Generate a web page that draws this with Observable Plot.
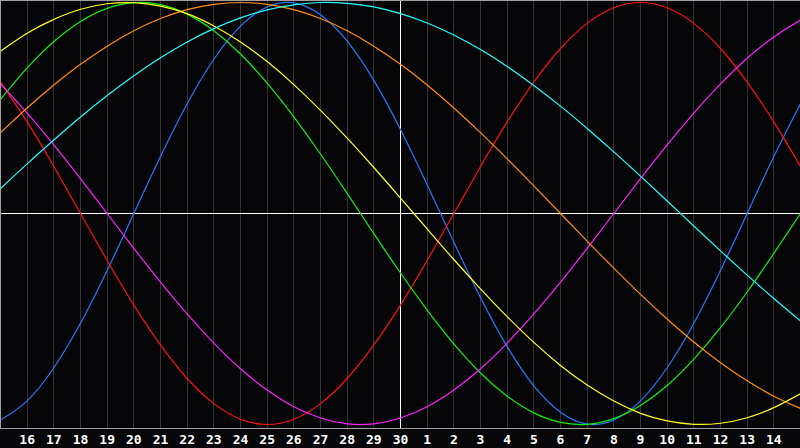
<!DOCTYPE html>
<html>
<head>
<meta charset="utf-8">
<script src="https://cdn.jsdelivr.net/npm/d3@7"></script>
<script src="https://cdn.jsdelivr.net/npm/@observablehq/plot@0.6"></script>
<style>
  html, body { margin: 0; padding: 0; background: #060609; }
  #chart svg { display: block; }
</style>
</head>
<body>
<div id="chart"></div>
<script>
// Day labels at grid positions 1..29 (position 15 = today, "30")
const dayLabels = [16,17,18,19,20,21,22,23,24,25,26,27,28,29,30,1,2,3,4,5,6,7,8,9,10,11,12,13,14];
const todayIndex = 15;

// Series values at positions 0..30 (one per day column edge)
const emotional = [0.623,0.434,0.223,0,-0.223,-0.434,-0.623,-0.782,-0.901,-0.975,-1,-0.975,-0.901,-0.782,-0.623,-0.434,-0.223,0,0.223,0.434,0.623,0.782,0.901,0.975,1,0.975,0.901,0.782,0.623,0.434,0.223];
const physical = [-0.979,-0.888,-0.731,-0.520,-0.270,0,0.270,0.520,0.731,0.888,0.979,0.998,0.942,0.817,0.631,0.398,0.136,-0.136,-0.398,-0.631,-0.817,-0.942,-0.998,-0.979,-0.888,-0.731,-0.520,-0.270,0,0.270,0.520];
const intellectual = [0.541,0.690,0.815,0.910,0.972,0.999,0.990,0.945,0.866,0.756,0.618,0.458,0.282,0.095,-0.095,-0.282,-0.458,-0.618,-0.756,-0.866,-0.945,-0.990,-0.999,-0.972,-0.910,-0.815,-0.690,-0.541,-0.372,-0.189,0];
const aesthetic = [0.769,0.854,0.920,0.968,0.994,0.999,0.983,0.947,0.889,0.813,0.720,0.611,0.489,0.357,0.218,0.073,-0.073,-0.218,-0.357,-0.489,-0.611,-0.720,-0.813,-0.889,-0.947,-0.983,-0.999,-0.994,-0.968,-0.920,-0.854];
const awareness = [0.383,0.500,0.609,0.707,0.793,0.866,0.924,0.966,0.991,1,0.991,0.966,0.924,0.866,0.793,0.707,0.609,0.500,0.383,0.259,0.131,0,-0.131,-0.259,-0.383,-0.500,-0.609,-0.707,-0.793,-0.866,-0.924];
const spiritual = [0.118,0.235,0.348,0.457,0.559,0.653,0.738,0.813,0.876,0.927,0.965,0.989,1.000,0.996,0.979,0.947,0.903,0.846,0.777,0.697,0.607,0.509,0.403,0.292,0.177,0.059,-0.059,-0.177,-0.292,-0.403,-0.509];
const intuitive = [0.614,0.476,0.325,0.165,0,-0.165,-0.325,-0.476,-0.614,-0.736,-0.837,-0.916,-0.969,-0.997,-0.997,-0.969,-0.916,-0.837,-0.736,-0.614,-0.476,-0.325,-0.165,0,0.165,0.325,0.476,0.614,0.736,0.837,0.916];

const seriesNames = ["physical","emotional","intellectual","intuitive","awareness","aesthetic","spiritual"];
const seriesColors = ["#2878ff","#ff1010","#10f010","#ff20ff","#ff8c10","#ffff20","#20ffff"];
const seriesData = {physical, emotional, intellectual, intuitive, awareness, aesthetic, spiritual};

const rows = [];
for (const name of seriesNames) {
  seriesData[name].forEach((v, i) => rows.push({series: name, k: i, v}));
}

const chart = Plot.plot({
  width: 800,
  height: 448,
  marginTop: 0,
  marginRight: 0,
  marginBottom: 20,
  marginLeft: 0,
  style: {background: "#060609", color: "#ffffff"},
  x: {domain: [0, 30], range: [0, 800], axis: null},
  y: {domain: [-1, 1], range: [424, 2], axis: null},
  color: {type: "ordinal", domain: seriesNames, range: seriesColors},
  marks: [
    Plot.ruleX(d3.range(1, 30), {stroke: "#343434", strokeWidth: 1, shapeRendering: "crispEdges"}),
    Plot.ruleX([todayIndex], {stroke: "#ffffff", strokeWidth: 1, shapeRendering: "crispEdges"}),
    Plot.ruleY([0], {stroke: "#ffffff", strokeWidth: 1, shapeRendering: "crispEdges"}),
    Plot.line(rows, {x: "k", y: "v", z: "series", stroke: "series", strokeWidth: 1.2, curve: "natural"}),
    Plot.frame({stroke: "#a0a0a0", strokeWidth: 1, shapeRendering: "crispEdges"}),
    Plot.axisX(d3.range(1, 30), {
      tickSize: 0,
      tickPadding: 6,
      tickFormat: k => String(dayLabels[k - 1]),
      fill: "#ffffff",
      fontSize: 13,
      fontWeight: "bold",
      fontFamily: "DejaVu Sans Mono",
      label: null
    })
  ]
});
document.getElementById("chart").appendChild(chart);
</script>
</body>
</html>
